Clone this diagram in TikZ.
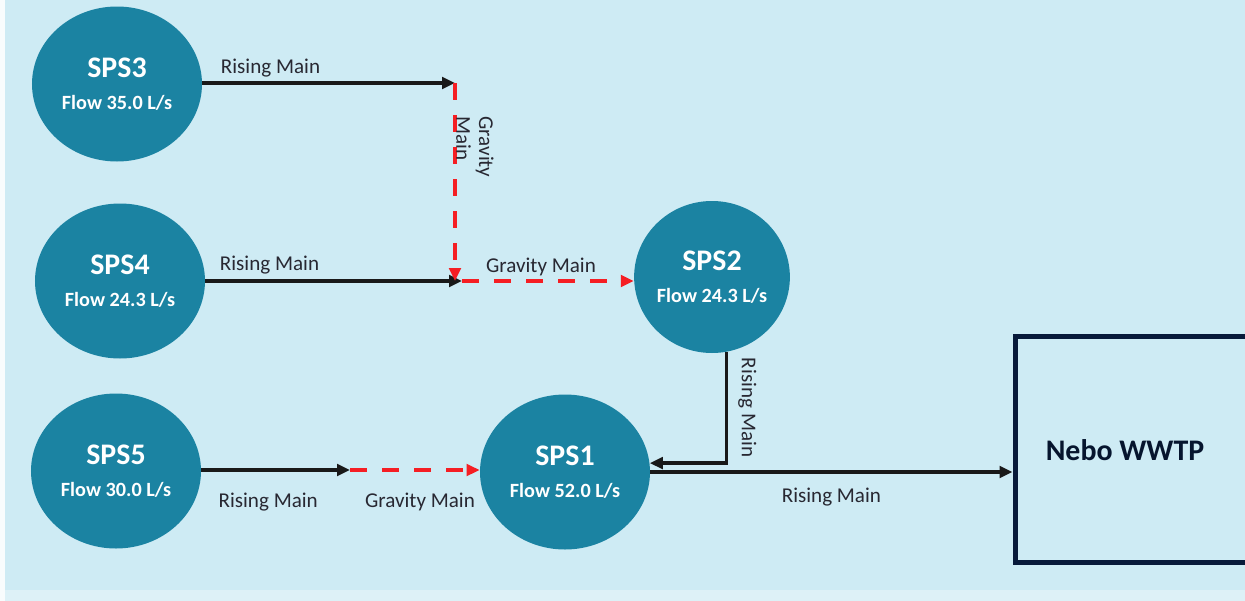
\documentclass[tikz,border=0pt]{standalone}
\usepackage{fontspec}
\setmainfont{Carlito}
\usepackage{tikz}
\usetikzlibrary{positioning, arrows.meta, shapes.geometric}
\definecolor{sea}{RGB}{206,235,244}
\definecolor{pump}{RGB}{27,131,162}
\definecolor{navy}{RGB}{8,26,58}
\definecolor{gred}{RGB}{245,30,35}
\definecolor{ink}{RGB}{40,40,50}

\begin{document}
\begin{tikzpicture}[
    x=0.2mm, y=-0.2mm,
    sps/.style={ellipse, fill=pump, minimum width=34mm, minimum height=31mm, inner sep=0pt, text=white, align=center},
    plant/.style={rectangle, draw=navy, line width=1mm, minimum width=56mm, minimum height=45.2mm},
    rise/.style={line width=0.75mm, draw=black!90, -{Triangle[length=2.6mm,width=2.3mm]}},
    grav/.style={line width=0.7mm, draw=gred, dash pattern=on 3.4mm off 3mm, -{Triangle[length=2.6mm,width=2.3mm]}},
    lbl/.style={font=\fontsize{12}{13}\selectfont, text=ink, inner sep=1pt}
]
\useasboundingbox (0,0) rectangle (1245,601);

% Background
\fill[sea] (0,0) rectangle (1245,601);
\fill[sea!70!white] (0,590) rectangle (1245,601);
\fill[white!85!sea] (0,0) rectangle (5,601);

% Pump stations
\newcommand{\stn}[2]{{\fontsize{17}{20}\selectfont\bfseries #1}\\[2.2mm]{\fontsize{11.5}{13}\selectfont\bfseries Flow #2 L/s}}
\node[sps] (sps3) at (117,84) {\stn{SPS3}{35.0}};
\node[sps] (sps4) at (120,281) {\stn{SPS4}{24.3}};
\node[sps] (sps5) at (116,471) {\stn{SPS5}{30.0}};
\node[sps, minimum width=29.4mm, minimum height=30.4mm] (sps2) at (712,277) {\stn{SPS2}{24.3}};
\node[sps] (sps1) at (565,472) {\stn{SPS1}{52.0}};

% Treatment plant
\node[plant] (wwtp) at (1155,449) {};
\node[font=\fontsize{17}{20}\selectfont\bfseries, text=navy!80!black] (wwtpname) at (1125,450) {Nebo WWTP};

% Junctions
\coordinate (j3) at (455,83);
\coordinate (j4) at (462,281);
\coordinate (j5) at (350,470);

% Rising mains
\draw[rise] (sps3.east |- j3) -- (j3) node[lbl, pos=0.27, above=0.4mm] {Rising Main};
\draw[rise] (sps4.east |- j4) -- (j4) node[lbl, pos=0.25, above=0.6mm] {Rising Main};
\draw[rise] (sps5.east |- j5) -- (j5) node[lbl, pos=0.45, below=3.8mm] {Rising Main};
\draw[rise] (sps2.-79) |- (sps1.6) node[lbl, pos=0.25, rotate=-90, anchor=south, yshift=1.6mm] {Rising Main};
\draw[rise] (sps1.east) -- (sps1.east -| wwtp.west) node[lbl, midway, below=2.4mm] {Rising Main};

% Gravity mains
\draw[grav] (j3) -- (j3 |- j4);
\node[lbl, rotate=-90, align=left] (gmlabel) at (475,147) {Gravity\\Main};
\draw[grav] (j4) -- (sps2.west |- j4) node[lbl, pos=0.46, above=0.4mm] {Gravity Main};
\draw[grav] (j5) -- (sps1.west |- j5) node[lbl, pos=0.54, below=3.8mm] {Gravity Main};
\end{tikzpicture}
\end{document}
